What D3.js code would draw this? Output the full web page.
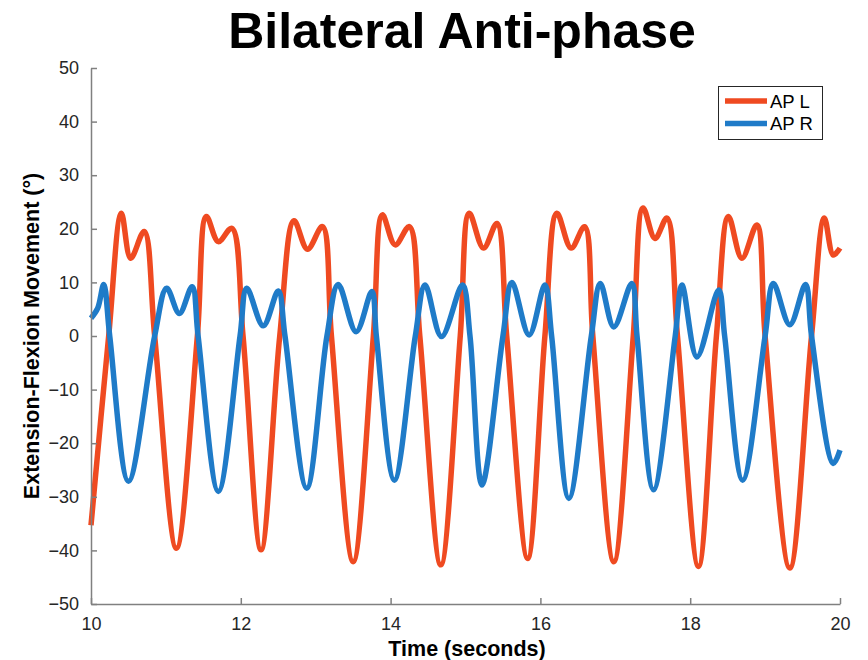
<!DOCTYPE html>
<html><head><meta charset="utf-8">
<script src="https://cdn.jsdelivr.net/npm/d3@7"></script>
<style>body{margin:0;background:#fff}svg{display:block}</style>
</head><body>
<svg id="c" width="868" height="660"></svg>
<script>
// Data (time in seconds, angle in degrees)
const apL_t = [10.00,10.236,10.405,10.53,10.71,10.85,11.14,11.42,11.54,11.70,11.88,12.03,12.27,12.52,12.71,12.89,13.09,13.21,13.50,13.77,13.89,14.06,14.25,14.39,14.67,14.93,15.05,15.24,15.42,15.55,15.83,16.06,16.22,16.41,16.59,16.70,16.98,17.24,17.37,17.53,17.69,17.83,18.11,18.35,18.51,18.69,18.89,19.00,19.33,19.62,19.79,19.91,20.00];
const apL_v = [-35.3,0,22.9,14.5,19.5,0,-39.6,0,22.3,17.6,20.1,0,-39.9,0,21.5,16.2,20.4,0,-42.1,0,22.6,17.0,20.4,0,-42.7,0,22.9,16.4,21.0,0,-41.5,0,22.9,16.4,20.4,0,-42.1,0,23.9,18.2,22.0,0,-43.0,0,22.3,14.5,20.7,0,-43.3,0,22.0,15.1,16.4];
const apR_t = [10.00,10.09,10.17,10.25,10.50,10.85,11.01,11.18,11.35,11.43,11.70,11.99,12.08,12.30,12.50,12.59,12.88,13.15,13.30,13.54,13.75,13.81,14.05,14.33,14.46,14.68,14.96,15.06,15.22,15.50,15.62,15.85,16.06,16.15,16.38,16.68,16.80,16.98,17.22,17.29,17.51,17.80,17.89,18.09,18.38,18.46,18.70,19.00,19.11,19.33,19.54,19.62,19.91,20.00];
const apR_v = [3.3,5.2,9.6,0,-27.1,0,8.9,4.2,9.2,0,-29.0,0,8.9,1.9,8.4,0,-28.4,0,9.6,0.8,8.3,0,-26.9,0,9.5,-0.1,9.5,0,-27.8,0,10.0,0.2,9.5,0,-30.3,0,9.8,1.7,9.8,0,-28.7,0,9.5,-3.9,8.6,0,-26.9,0,9.8,2.1,9.6,0,-23.8,-21.3];
const seriesNames = ["AP L","AP R"];
const seriesColors = ["#EF4A21","#1F7BC8"];
const xTicks = [10,12,14,16,18,20];
const yTicks = [-50,-40,-30,-20,-10,0,10,20,30,40,50];

const svg = d3.select("#c");
const L = 91, R = 840, T = 68, B = 604;
const x = d3.scaleLinear().domain([10,20]).range([L,R]);
const y = d3.scaleLinear().domain([-50,50]).range([B,T]);
const font = "'Liberation Sans', Arial, sans-serif";
const axisCol = "#808080", textCol = "#262626";

const plot = svg.append("g");
const series = [
  apL_t.map((t,i)=>[t,apL_v[i]]),
  apR_t.map((t,i)=>[t,apR_v[i]])
];
const line = d3.line().x(d=>x(d[0])).y(d=>y(d[1])).curve(d3.curveCatmullRom.alpha(0.5));
series.forEach((s,i)=>{
  plot.append("path").attr("d",line(s)).attr("fill","none")
    .attr("stroke",seriesColors[i]).attr("stroke-width",5.5).attr("stroke-linejoin","round").attr("stroke-linecap","butt");
});

// axes
const yAxis = d3.axisLeft(y).tickValues(yTicks).tickSize(-6).tickPadding(12).tickSizeOuter(0);
const gy = svg.append("g").attr("transform",`translate(${L},0)`).call(yAxis);
const xAxis = d3.axisBottom(x).tickValues(xTicks).tickSize(-6).tickPadding(13).tickSizeOuter(0);
const gx = svg.append("g").attr("transform",`translate(0,${B})`).call(xAxis);
[gx,gy].forEach(g=>{
  g.select(".domain").attr("stroke",axisCol).attr("stroke-width",1.5);
  g.selectAll(".tick line").attr("stroke",axisCol).attr("stroke-width",1.5);
  g.selectAll(".tick text").attr("fill",textCol).style("font-family",font).style("font-size","18px");
});

// title & labels
svg.append("text").attr("x",462).attr("y",48).attr("text-anchor","middle")
  .style("font-family",font).style("font-weight","bold").style("font-size","50px").attr("fill","#000")
  .text("Bilateral Anti-phase");
svg.append("text").attr("x",467).attr("y",656).attr("text-anchor","middle")
  .style("font-family",font).style("font-weight","bold").style("font-size","21.5px").attr("fill","#000")
  .text("Time (seconds)");
svg.append("text").attr("transform",`translate(39,${(T+B)/2}) rotate(-90)`).attr("text-anchor","middle")
  .style("font-family",font).style("font-weight","bold").style("font-size","21.5px").attr("fill","#000")
  .text("Extension-Flexion Movement (°)");

// legend
const lg = svg.append("g");
lg.append("rect").attr("x",718.5).attr("y",86.5).attr("width",104).attr("height",53)
  .attr("fill","#fff").attr("stroke","#262626").attr("stroke-width",1);
seriesNames.forEach((n,i)=>{
  const yy = 101 + i*22.5;
  lg.append("line").attr("x1",725).attr("x2",767).attr("y1",yy).attr("y2",yy)
    .attr("stroke",seriesColors[i]).attr("stroke-width",5.5);
  lg.append("text").attr("x",770).attr("y",yy+6.5).style("font-family",font).style("font-size","18.5px")
    .attr("fill","#000").text(n);
});
</script>
</body></html>
